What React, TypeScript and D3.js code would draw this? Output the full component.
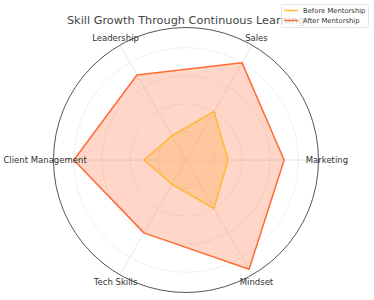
import React from "react";
import * as d3 from "d3";

const categories = ["Marketing", "Sales", "Leadership", "Client Management", "Tech Skills", "Mindset"];
const beforeValues = [3, 4, 2, 3, 2, 4];
const afterValues = [7, 8, 7, 8, 6, 9];
const ringTicks = [2, 4, 6, 8];
const seriesNames = ["Before Mentorship", "After Mentorship"];
const seriesColors = ["#FFB833", "#FF6B35"];

const W = 374, H = 300;
const cx = 186, cy = 160, R = 132.5;
const rMax = 9.45;

export default function App() {
  const r = d3.scaleLinear().domain([0, rMax]).range([0, R]);
  const angle = d3.scaleLinear().domain([0, categories.length]).range([0, 2 * Math.PI]);
  const pt = (i: number, v: number) => {
    const a = angle(i);
    return [cx + r(v) * Math.cos(a), cy - r(v) * Math.sin(a)] as [number, number];
  };
  const line = d3.line<number>().x((v, i) => pt(i, v)[0]).y((v, i) => pt(i, v)[1]).curve(d3.curveLinearClosed);
  const series = [beforeValues, afterValues];

  return (
    <svg width={W} height={H} style={{ position: "absolute", left: 0, top: 0, fontFamily: "DejaVu Sans, sans-serif" }}>
      <rect width={W} height={H} fill="#fff" />
      {ringTicks.map((t) => (
        <circle key={t} cx={cx} cy={cy} r={r(t)} fill="none" stroke="#d8d8d8" strokeWidth={0.8} strokeDasharray="1.5,1.5" />
      ))}
      {categories.map((c, i) => {
        const [x, y] = pt(i, rMax);
        return <line key={c} x1={cx} y1={cy} x2={x} y2={y} stroke="#e2e2e2" strokeWidth={0.8} />;
      })}
      {series.map((s, k) => (
        <path key={"f" + k} d={line(s) || ""} fill={seriesColors[k]} fillOpacity={0.28} stroke="none" />
      ))}
      {series.map((s, k) => (
        <path key={"l" + k} d={line(s) || ""} fill="none" stroke={seriesColors[k]} strokeWidth={1.5} strokeLinejoin="round" />
      ))}
      <circle cx={cx} cy={cy} r={R} fill="none" stroke="#555" strokeWidth={1} />
      {categories.map((c, i) => {
        const [x, y] = pt(i, rMax + 0.6);
        return (
          <text key={c} x={x} y={y} textAnchor="middle" dominantBaseline="central" fontSize={8.5} fill="#333">
            {c}
          </text>
        );
      })}
      <text x={cx} y={24} textAnchor="middle" fontSize={11.3} fill="#444">
        Skill Growth Through Continuous Learning
      </text>
      <g>
        <rect x={281.5} y={4.5} width={87} height={23} rx={2} fill="#fff" fillOpacity={0.8} stroke="#ddd" strokeWidth={0.8} />
        {seriesNames.map((n, k) => (
          <g key={n}>
            <line x1={284} x2={298} y1={10.5 + k * 10} y2={10.5 + k * 10} stroke={seriesColors[k]} strokeWidth={1.5} />
            <text x={303} y={10.5 + k * 10} dominantBaseline="central" fontSize={6.8} fill="#333">
              {n}
            </text>
          </g>
        ))}
      </g>
    </svg>
  );
}
